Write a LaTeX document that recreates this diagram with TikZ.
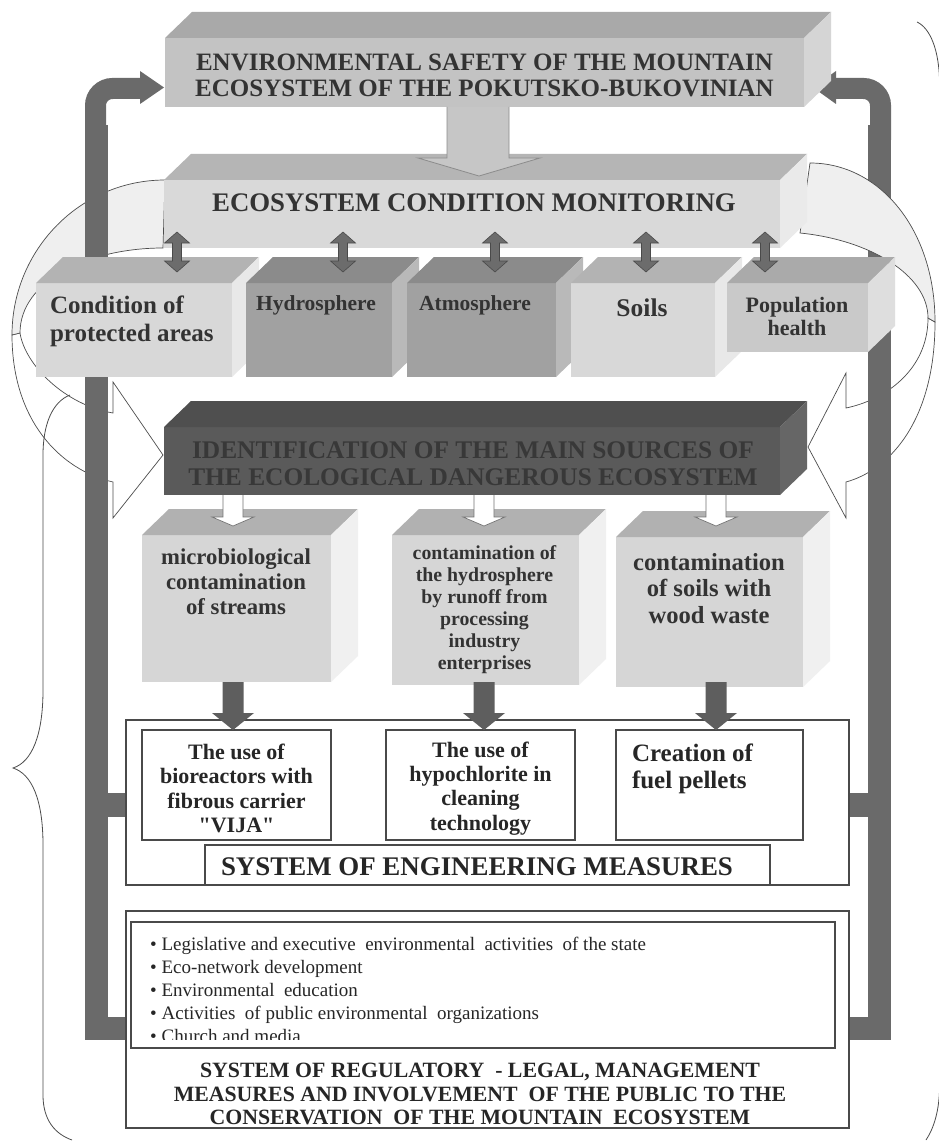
\documentclass[tikz,border=0pt]{standalone}
\usepackage{fontspec}
\setmainfont{Liberation Serif}
\newfontfamily\qfont{Liberation Serif}
\usetikzlibrary{calc}
\definecolor{txt}{HTML}{333333}
\definecolor{idtxt}{HTML}{383838}
\definecolor{blk}{HTML}{262626}
\definecolor{barc}{HTML}{6A6A6A}
\definecolor{bandc}{HTML}{EFEFEF}
\definecolor{outl}{HTML}{4D4D4D}
\definecolor{boxl}{HTML}{4A4A4A}
\definecolor{topF}{HTML}{C3C3C3}\definecolor{topT}{HTML}{A9A9A9}\definecolor{topS}{HTML}{D5D5D5}
\definecolor{monF}{HTML}{D9D9D9}\definecolor{monT}{HTML}{B5B5B5}\definecolor{monS}{HTML}{EAEAEA}
\definecolor{litF}{HTML}{D8D8D8}\definecolor{litT}{HTML}{B3B3B3}\definecolor{litS}{HTML}{E8E8E8}
\definecolor{drkF}{HTML}{A1A1A1}\definecolor{drkT}{HTML}{8B8B8B}\definecolor{drkS}{HTML}{B9B9B9}
\definecolor{popF}{HTML}{C9C9C9}\definecolor{popT}{HTML}{AAAAAA}\definecolor{popS}{HTML}{DEDEDE}
\definecolor{idF}{HTML}{5A5A5A}\definecolor{idT}{HTML}{4F4F4F}\definecolor{idS}{HTML}{666666}
\definecolor{srcF}{HTML}{D6D6D6}\definecolor{srcT}{HTML}{B1B1B1}\definecolor{srcS}{HTML}{F0F0F0}
\definecolor{dblF}{HTML}{6C6C6C}\definecolor{dblD}{HTML}{4A4A4A}
\definecolor{bigF}{HTML}{C6C6C6}\definecolor{bigD}{HTML}{8C8C8C}
\definecolor{darF}{HTML}{5E5E5E}
\newcommand{\threed}[3]{%
  \fill[#2] (#1.north west) -- ++(27,-26) -- ($(#1.north east)+(27,-26)$) -- (#1.north east) -- cycle;
  \fill[#3] (#1.north east) -- ++(27,-26) -- ($(#1.south east)+(27,-26)$) -- (#1.south east) -- cycle;}
\newcommand{\dblarrow}[3]{%
  \path[fill=dblF,draw=dblD,line width=0.6pt] (#1,#2) -- ++(12.5,11) -- ++(-8,0) -- ({#1+4.5},{#3-11}) -- ++(8,0) -- (#1,#3) -- ++(-12.5,-11) -- ++(8,0) -- ({#1-4.5},{#2+11}) -- ++(-8,0) -- cycle;}
\newcommand{\whitearrow}[1]{%
  \path[fill=white,draw=black!55,line width=0.7pt] ({#1-10},495) -- ({#1-10},517) -- ({#1-21},517) -- (#1,526) -- ({#1+21},517) -- ({#1+10},517) -- ({#1+10},495);}
\newcommand{\darkarrow}[1]{%
  \fill[darF] ({#1-10.5},682) -- ({#1-10.5},713) -- ({#1-21},713) -- (#1,730) -- ({#1+21},713) -- ({#1+10.5},713) -- ({#1+10.5},682) -- cycle;}
\begin{document}
\begin{tikzpicture}[x=1pt,y=-1pt,
  face/.style={inner sep=0pt,outer sep=0pt},
  lbl/.style={inner sep=0pt,outer sep=0pt,text=txt,align=center},
  fs/.style 2 args={font=\fontsize{#1}{#2}\selectfont\bfseries},
  arrline/.style={draw=outl,line width=0.7pt},
  barline/.style={draw=barc,line width=#1},
  wbox/.style={draw=boxl,line width=1.2pt,fill=white,inner sep=0pt,outer sep=0pt},
  item/.style={anchor=base west,inner sep=0pt,text=blk,font=\fontsize{19}{22}\selectfont},
  brace/.style={draw=black!70,line width=0.8pt}]
\useasboundingbox (0,0) rectangle (938,1142);
\fill[white] (0,0) rectangle (938,1142);

% ---- curved arrows (left) ----
\path[arrline,fill=white] (12,335) .. controls (12,420) and (60,470) .. (113,482) -- (113,518) -- (163,455) -- (113,382) -- (113,413) .. controls (65,405) and (25,365) .. (20,333) -- cycle;
\path[arrline,fill=bandc] (165,180) .. controls (80,180) and (12,250) .. (12,335) -- (20,333) .. controls (20,280) and (90,248) .. (163,248) -- cycle;
% ---- curved arrow (right, lower part) ----
\path[arrline,fill=white] (935,322) .. controls (935,420) and (890,470) .. (846,482) -- (846,518) -- (808,447) -- (846,373) -- (846,408) .. controls (885,400) and (928,370) .. (928,318) -- cycle;

% ---- feedback bars ----
\draw[barline=21pt,rounded corners=17pt] (140,88.5) -- (95.5,88.5) -- (95.5,140);
\draw[barline=23pt] (96.5,125) -- (96.5,1028.5) -- (126,1028.5);
\fill[barc] (108,793) rectangle (126,817);
\fill[barc] (140,71) -- (164,87.5) -- (140,104) -- cycle;
\draw[barline=21pt,rounded corners=17pt] (836,88.5) -- (880.5,88.5) -- (880.5,140);
\draw[barline=23pt] (879.5,125) -- (879.5,1028.5) -- (849,1028.5);
\fill[barc] (849,793) rectangle (868,817);
\fill[barc] (836,71) -- (813,87.5) -- (836,104) -- cycle;

% ---- curved arrow (right, upper part) ----
\path[arrline,fill=bandc] (810,163) .. controls (880,163) and (935,230) .. (935,322) -- (928,318) .. controls (928,275) and (870,240) .. (800,233) -- cycle;

% ---- top box ----
\node[face,fill=topF,minimum width=639pt,minimum height=69pt] (env) at (484.5,72.5) {};
\threed{env}{topT}{topS}
\node[lbl,fs={25}{26}] (envt) at (484.5,75) {ENVIRONMENTAL SAFETY OF THE MOUNTAIN\\ECOSYSTEM OF THE POKUTSKO-BUKOVINIAN};

% ---- monitoring ----
\node[face,fill=monF,minimum width=616pt,minimum height=68pt] (mon) at (472,214) {};
\threed{mon}{monT}{monS}
\node[lbl,fs={26.8}{28}] (mont) at (474,203) {ECOSYSTEM CONDITION MONITORING};
\path[fill=bigF,draw=bigD,line width=0.8pt] (447,107) -- (447,158) -- (418,158) -- (479,176) -- (540,158) -- (509,158) -- (509,107);

% ---- five boxes ----
\node[face,fill=litF,minimum width=196pt,minimum height=94pt] (b1) at (134,330) {};
\threed{b1}{litT}{litS}
\node[face,fill=drkF,minimum width=146pt,minimum height=94pt] (b2) at (319,330) {};
\threed{b2}{drkT}{drkS}
\node[face,fill=drkF,minimum width=149pt,minimum height=94pt] (b3) at (481.5,330) {};
\threed{b3}{drkT}{drkS}
\node[face,fill=litF,minimum width=144pt,minimum height=94pt] (b4) at (643,330) {};
\threed{b4}{litT}{litS}
\node[face,fill=popF,minimum width=141pt,minimum height=69pt] (b5) at (797.5,317.5) {};
\threed{b5}{popT}{popS}
\node[lbl,fs={25}{28},align=left,anchor=west] (b1t) at (50,321) {Condition of\\protected areas};
\node[lbl,fs={21.5}{23}] (b2t) at (316,305) {Hydrosphere};
\node[lbl,fs={21.5}{23}] (b3t) at (475,305) {Atmosphere};
\node[lbl,fs={25.5}{27}] (b4t) at (642,308) {Soils};
\node[lbl,fs={22}{23}] (b5t) at (797,316.5) {Population\\health};
\dblarrow{177}{232}{272}
\dblarrow{343}{232}{272}
\dblarrow{495}{232}{272}
\dblarrow{646}{232}{272}
\dblarrow{765}{232}{272}

% ---- identification ----
\node[face,fill=idF,minimum width=616pt,minimum height=68pt] (idb) at (472,461) {};
\threed{idb}{idT}{idS}
\node[lbl,text=idtxt,fs={25.4}{27}] (idt) at (473,463.5) {IDENTIFICATION OF THE MAIN SOURCES OF\\THE ECOLOGICAL DANGEROUS ECOSYSTEM};

% ---- sources ----
\node[face,fill=srcF,minimum width=189pt,minimum height=147pt] (s1) at (236.5,608.5) {};
\threed{s1}{srcT}{srcS}
\node[face,fill=srcF,minimum width=187pt,minimum height=150pt] (s2) at (485.5,610) {};
\threed{s2}{srcT}{srcS}
\node[face,fill=srcF,minimum width=187pt,minimum height=150pt] (s3) at (709.5,612) {};
\threed{s3}{srcT}{srcS}
\node[lbl,fs={22.7}{25}] (s1t) at (236,582) {microbiological\\contamination\\of streams};
\node[lbl,fs={19.8}{22}] (s2t) at (484.5,610) {contamination of\\the hydrosphere\\by runoff from\\processing\\industry\\enterprises};
\node[lbl,fs={24.6}{26.5}] (s3t) at (709,588.5) {contamination\\of soils with\\wood waste};
\whitearrow{233}
\whitearrow{484}
\whitearrow{716}

% ---- engineering measures ----
\node[wbox,minimum width=723pt,minimum height=165pt] (eng) at (487.5,802.5) {};
\node[wbox,minimum width=189pt,minimum height=110pt] (ea) at (236.5,785) {};
\node[wbox,minimum width=189pt,minimum height=110pt] (eb) at (480.5,785) {};
\node[wbox,minimum width=187pt,minimum height=110pt] (ec) at (709.5,785) {};
\node[wbox,minimum width=565pt,minimum height=40pt] (engtb) at (487.5,865) {};
\node[lbl,text=blk,fs={22}{24.3}] (eat) at (236.5,788.5) {The use of\\bioreactors with\\fibrous carrier\\{\qfont"}VIJA{\qfont"}};
\begin{scope}
\clip (387,731) rectangle (574,835);
\node[lbl,text=blk,fs={22}{24.3}] (ebt) at (480.5,788.5) {The use of\\hypochlorite in\\cleaning\\technology};
\end{scope}
\node[lbl,text=blk,fs={25}{27},align=left,anchor=west] (ect) at (632,768.5) {Creation of\\fuel pellets};
\node[lbl,text=blk,fs={26.9}{28}] (engt) at (477,867) {SYSTEM OF ENGINEERING MEASURES};
\darkarrow{233}
\darkarrow{484}
\darkarrow{716}

% ---- regulatory measures ----
\node[wbox,minimum width=723pt,minimum height=217pt] (reg) at (487.5,1019.5) {};
\node[wbox,minimum width=704pt,minimum height=126pt] (lst) at (483,985) {};
\begin{scope}
\clip (132,923) rectangle (834,1039);
\node[item] (l1) at (150,950) {• Legislative and executive~ environmental~ activities~ of the state};
\node[item] (l2) at (150,973) {• Eco-network development};
\node[item] (l3) at (150,996) {• Environmental~ education};
\node[item] (l4) at (150,1019) {• Activities~ of public environmental~ organizations};
\node[item] (l5) at (150,1042) {• Church and media};
\end{scope}
\node[lbl,text=blk,fs={21.8}{23.5}] (regt) at (480,1094) {SYSTEM OF REGULATORY~ - LEGAL, MANAGEMENT\\MEASURES AND INVOLVEMENT~ OF THE PUBLIC TO THE\\CONSERVATION~ OF THE MOUNTAIN~ ECOSYSTEM};

% ---- braces ----
\draw[brace] (70,395) .. controls (52,402) and (43,425) .. (43,455) -- (43,690) .. controls (43,735) and (32,762) .. (13,768) .. controls (32,774) and (43,800) .. (43,845) -- (43,1095) .. controls (43,1120) and (55,1134) .. (72,1140);
\draw[brace] (917,22) .. controls (930,28) and (939.6,50) .. (939.6,85) -- (939.6,1085) .. controls (939.6,1110) and (934,1128) .. (926,1140);
\end{tikzpicture}
\end{document}
